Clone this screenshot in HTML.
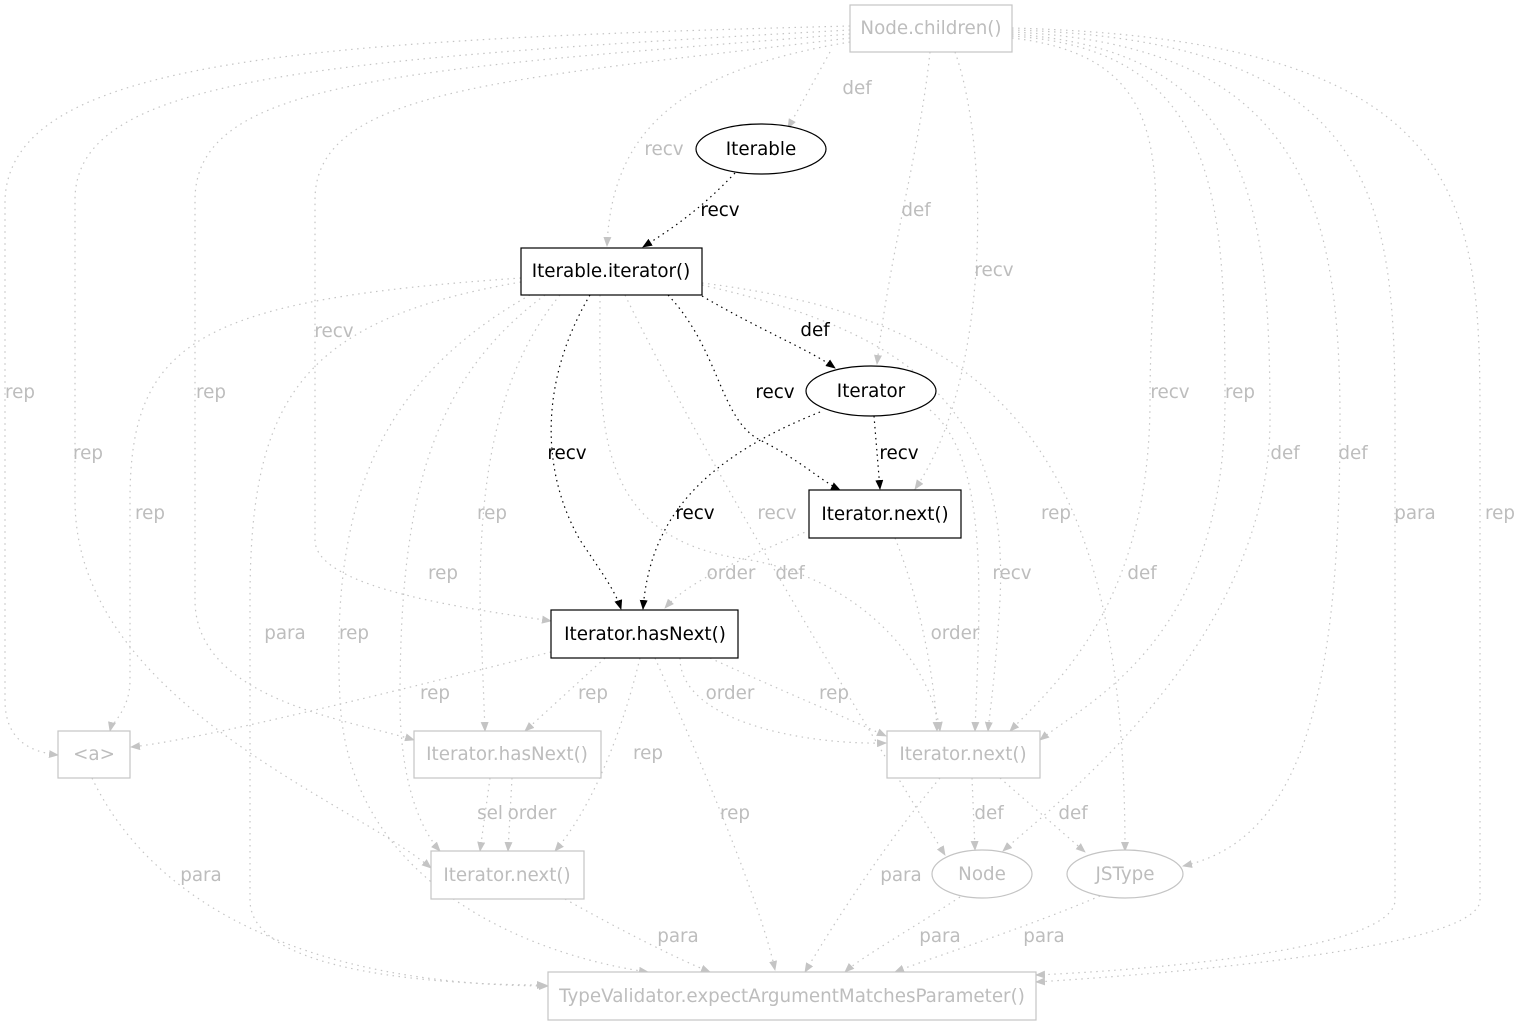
<!DOCTYPE html>
<html><head><meta charset="utf-8"><style>
html,body{margin:0;padding:0;background:#fff;}
svg{display:block;}
text{font-family:"DejaVu Sans","Liberation Sans",sans-serif;font-size:18.3px;text-anchor:middle;}
.g{fill:#bdbdbd;}
.b{fill:#000;}
.eg{fill:none;stroke:#c4c4c4;stroke-width:1.2;stroke-dasharray:1.5,4.5;}
.eb{fill:none;stroke:#000;stroke-width:1.2;stroke-dasharray:1.5,4;}
.ng{fill:#fff;stroke:#c4c4c4;stroke-width:1.2;}
.nb{fill:#fff;stroke:#000;stroke-width:1.2;}
</style></head><body>
<svg width="1520" height="1027" viewBox="0 0 1520 1027" xmlns="http://www.w3.org/2000/svg">
<defs>
<marker id="ag" markerWidth="10" markerHeight="8" refX="9" refY="4" orient="auto" markerUnits="userSpaceOnUse"><path d="M0,0 L10,4 L0,8 z" fill="#c4c4c4"/></marker>
<marker id="ab" markerWidth="10" markerHeight="8" refX="9" refY="4" orient="auto" markerUnits="userSpaceOnUse"><path d="M0,0 L10,4 L0,8 z" fill="#000"/></marker>
</defs>
<g class="eg" marker-end="url(#ag)">
<path d="M850,26 C300,40 10,60 5,200 L5,700 C5,740 30,752 58,755"/>
<path d="M850,30 C300,60 75,80 75,200 L75,500 C75,700 350,800 431,868"/>
<path d="M850,34 C400,70 195,80 195,200 L195,600 C195,700 350,720 414,740"/>
<path d="M850,38 C500,80 315,90 315,200 L315,540 C315,590 480,610 551,621"/>
<path d="M850,42 C680,70 612,130 607,246"/>
<path d="M830,52 L788,128"/>
<path d="M930,52 C920,150 890,250 877,364"/>
<path d="M955,52 C990,150 990,380 915,489"/>
<path d="M1012,38 C1200,60 1150,200 1150,400 C1150,600 1060,680 1010,731"/>
<path d="M1012,36 C1220,50 1225,200 1225,400 C1225,640 1090,700 1040,740"/>
<path d="M1012,34 C1250,50 1270,200 1270,420 C1270,640 1060,800 1003,851"/>
<path d="M1012,32 C1300,45 1340,200 1340,420 C1340,700 1300,840 1183,866"/>
<path d="M1012,30 C1380,40 1395,200 1395,420 L1395,900 C1395,950 1150,970 1036,975"/>
<path d="M1012,28 C1470,40 1480,200 1480,420 L1480,900 C1480,950 1150,975 1036,982"/>
<path d="M521,278 C200,300 130,340 130,500 L130,680 C130,710 112,722 110,731"/>
<path d="M521,282 C300,320 250,400 250,600 L250,900 C250,975 450,985 546,985"/>
<path d="M530,295 C380,380 330,500 340,700 C350,900 560,960 648,972"/>
<path d="M545,295 C430,380 400,500 400,700 C400,800 430,840 440,851"/>
<path d="M560,295 C490,380 480,500 480,600 L485,731"/>
<path d="M600,295 C600,420 590,540 750,560 C860,580 930,660 940,731"/>
<path d="M625,295 C700,450 850,700 945,855"/>
<path d="M702,285 C900,330 1010,400 1000,600 C995,680 990,710 988,731"/>
<path d="M702,283 C1000,320 1125,450 1125,851"/>
<path d="M930,410 C990,460 980,600 975,731"/>
<path d="M810,530 C740,560 690,580 665,608"/>
<path d="M895,538 C920,600 935,680 937,731"/>
<path d="M551,652 C400,690 200,740 131,747"/>
<path d="M605,658 L525,731"/>
<path d="M640,658 C620,740 590,810 555,851"/>
<path d="M655,658 C700,760 760,900 775,970"/>
<path d="M680,658 C680,720 800,745 886,743"/>
<path d="M710,658 C780,690 840,715 886,736"/>
<path d="M92,778 C150,900 300,985 548,986"/>
<path d="M490,778 L480,851"/>
<path d="M512,778 L508,851"/>
<path d="M940,778 C880,850 830,930 805,972"/>
<path d="M972,778 L975,850"/>
<path d="M1000,778 L1085,852"/>
<path d="M565,899 C620,930 680,960 710,972"/>
<path d="M960,897 C910,930 860,958 845,972"/>
<path d="M1100,896 C1020,930 930,958 895,972"/>
</g>
<g class="eb" marker-end="url(#ab)">
<path d="M735,173 C700,210 670,230 643,247"/>
<path d="M702,296 C760,330 810,350 835,368"/>
<path d="M668,295 C720,350 720,420 760,440 C800,460 820,480 840,490"/>
<path d="M590,295 C540,380 540,470 580,540 C600,570 615,590 621,609"/>
<path d="M820,412 C700,460 650,520 643,609"/>
<path d="M874,416 L880,489"/>
</g>
<rect class="ng" x="850" y="5" width="162" height="47"/>
<text class="g" x="931" y="34">Node.children()</text>
<ellipse class="nb" cx="761" cy="149" rx="65" ry="25"/>
<text class="b" x="761" y="155">Iterable</text>
<rect class="nb" x="521" y="248" width="181" height="47"/>
<text class="b" x="611" y="277">Iterable.iterator()</text>
<ellipse class="nb" cx="871" cy="391" rx="65" ry="25"/>
<text class="b" x="871" y="397">Iterator</text>
<rect class="nb" x="809" y="490" width="152" height="48"/>
<text class="b" x="885" y="520">Iterator.next()</text>
<rect class="nb" x="551" y="610" width="187" height="48"/>
<text class="b" x="645" y="640">Iterator.hasNext()</text>
<rect class="ng" x="58" y="731" width="72" height="47"/>
<text class="g" x="94" y="760">&lt;a&gt;</text>
<rect class="ng" x="414" y="731" width="187" height="47"/>
<text class="g" x="507" y="760">Iterator.hasNext()</text>
<rect class="ng" x="887" y="731" width="153" height="47"/>
<text class="g" x="963" y="760">Iterator.next()</text>
<rect class="ng" x="431" y="851" width="153" height="48"/>
<text class="g" x="507" y="881">Iterator.next()</text>
<ellipse class="ng" cx="982" cy="874" rx="50" ry="24"/>
<text class="g" x="982" y="880">Node</text>
<ellipse class="ng" cx="1125" cy="874" rx="58" ry="24"/>
<text class="g" x="1125" y="880">JSType</text>
<rect class="ng" x="548" y="972" width="488" height="48"/>
<text class="g" x="792" y="1002">TypeValidator.expectArgumentMatchesParameter()</text>
<g class="g">
<text x="857" y="94">def</text><text x="664" y="155">recv</text><text x="916" y="216">def</text><text x="994" y="276">recv</text>
<text x="334" y="337">recv</text><text x="20" y="398">rep</text><text x="211" y="398">rep</text><text x="1170" y="398">recv</text><text x="1240" y="398">rep</text>
<text x="88" y="459">rep</text><text x="1285" y="459">def</text><text x="1353" y="459">def</text>
<text x="150" y="519">rep</text><text x="492" y="519">rep</text><text x="777" y="519">recv</text><text x="1056" y="519">rep</text><text x="1415" y="519">para</text><text x="1500" y="519">rep</text>
<text x="443" y="579">rep</text><text x="731" y="579">order</text><text x="790" y="579">def</text><text x="1012" y="579">recv</text><text x="1142" y="579">def</text>
<text x="285" y="639">para</text><text x="354" y="639">rep</text><text x="955" y="639">order</text>
<text x="435" y="699">rep</text><text x="593" y="699">rep</text><text x="730" y="699">order</text><text x="834" y="699">rep</text>
<text x="648" y="759">rep</text>
<text x="490" y="819">sel</text><text x="532" y="819">order</text><text x="735" y="819">rep</text><text x="989" y="819">def</text><text x="1073" y="819">def</text>
<text x="201" y="881">para</text><text x="901" y="881">para</text>
<text x="678" y="942">para</text><text x="940" y="942">para</text><text x="1044" y="942">para</text>
</g>
<g class="b">
<text x="720" y="216">recv</text><text x="815" y="336">def</text><text x="775" y="398">recv</text><text x="567" y="459">recv</text><text x="899" y="459">recv</text><text x="695" y="519">recv</text>
</g>
</svg>
</body></html>
